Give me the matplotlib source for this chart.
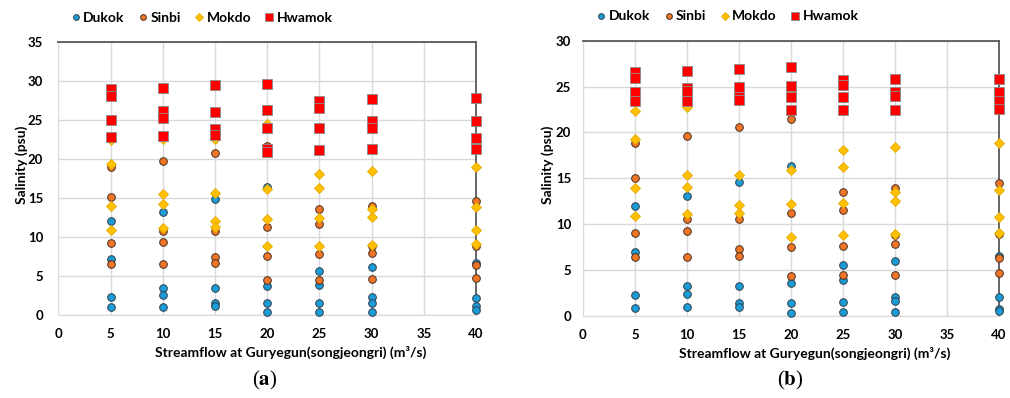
import matplotlib
matplotlib.use('Agg')
import matplotlib.pyplot as plt

plt.rcParams['font.family'] = ['Lato', 'DejaVu Sans']
plt.rcParams['mathtext.fontset'] = 'stix'

flows = [5, 10, 15, 20, 25, 30, 40]

# (a) salinity values at each streamflow
a_dukok = [[12.1, 7.2, 2.3, 1.0], [13.2, 3.4, 2.5, 1.0], [14.8, 3.4, 1.5, 1.1],
           [16.4, 3.7, 1.5, 0.4], [5.7, 3.9, 1.5, 0.4], [6.1, 2.3, 1.6, 0.4],
           [6.6, 2.2, 1.1, 0.6]]
a_sinbi = [[19.0, 15.1, 9.2, 6.5], [19.7, 10.7, 9.4, 6.5], [20.7, 10.8, 7.4, 6.6],
           [21.7, 11.3, 7.6, 4.5], [13.6, 11.6, 7.8, 4.5], [13.9, 8.9, 7.9, 4.6],
           [14.6, 8.9, 6.4, 4.7]]
a_mokdo = [[22.4, 19.4, 14.0, 10.9], [22.6, 15.5, 14.2, 11.2], [22.5, 15.6, 12.1, 11.3],
           [24.5, 16.1, 12.3, 8.8], [18.1, 16.3, 12.4, 8.8], [18.5, 13.6, 12.6, 9.0],
           [19.0, 13.8, 10.9, 9.1]]
a_hwamok = [[29.0, 28.0, 25.0, 22.8], [29.1, 26.1, 25.2, 22.9], [29.4, 26.0, 23.8, 23.0],
            [29.6, 26.3, 23.9, 21.3, 20.9], [27.4, 26.5, 23.9, 21.1], [27.6, 24.9, 24.0, 21.2],
            [27.8, 24.9, 22.7, 21.3]]

# (b)
b_dukok = [[12.0, 7.0, 2.3, 0.9], [13.1, 3.3, 2.4, 1.0], [14.6, 3.3, 1.4, 1.0],
           [16.3, 3.6, 1.4, 0.3], [5.6, 3.9, 1.5, 0.4], [6.0, 2.1, 1.6, 0.4],
           [6.5, 2.1, 0.8, 0.5]]
b_sinbi = [[18.9, 15.0, 9.1, 6.4], [19.6, 10.6, 9.3, 6.4], [20.6, 10.6, 7.3, 6.5],
           [21.5, 11.2, 7.5, 4.4], [13.5, 11.5, 7.6, 4.5], [14.0, 8.8, 7.8, 4.5],
           [14.5, 8.9, 6.3, 4.7]]
b_mokdo = [[22.3, 19.3, 13.9, 10.9], [22.8, 15.4, 14.1, 11.1], [23.5, 15.4, 12.1, 11.2],
           [24.4, 15.9, 12.2, 8.6], [18.1, 16.2, 12.3, 8.8], [18.4, 13.5, 12.5, 8.9],
           [18.8, 13.7, 10.8, 9.0]]
b_hwamok = [[26.6, 25.9, 24.4, 23.4], [26.7, 24.9, 24.5, 23.4], [26.9, 25.0, 23.9, 23.5],
            [27.1, 25.1, 23.9, 22.4], [25.7, 25.2, 23.9, 22.4], [25.8, 24.4, 24.0, 22.4],
            [25.8, 24.4, 23.4, 22.6]]

names = ['Dukok', 'Sinbi', 'Mokdo', 'Hwamok']
styles = [dict(marker='o', ms=5.5, mfc='#1B9BD7', mec='#2F3E4A', mew=0.7),
          dict(marker='o', ms=5.5, mfc='#F07526', mec='#4A2E1E', mew=0.7),
          dict(marker='D', ms=5.2, mfc='#FFC000', mec='#E3A800', mew=0.6),
          dict(marker='s', ms=7, mfc='#FF0000', mec='#8C8C8C', mew=0.6)]


def expand(groups):
    xs, ys = [], []
    for f, vals in zip(flows, groups):
        xs += [f] * len(vals)
        ys += vals
    return xs, ys


fig = plt.figure(figsize=(10.1, 3.98), dpi=100)
ax1 = fig.add_axes([0.0579, 0.2085, 0.4134, 0.6867])
ax2 = fig.add_axes([0.5772, 0.2060, 0.4119, 0.6917])

# axes, data, ymax, panel letter, letter x, y tick pad, legend x
panels = [(ax1, [a_dukok, a_sinbi, a_mokdo, a_hwamok], 35, 'a', 0.262, 11, -0.002),
          (ax2, [b_dukok, b_sinbi, b_mokdo, b_hwamok], 30, 'b', 0.782, 8.5, 0.001)]

for ax, series, ymax, lab, lx, ypad, legx in panels:
    for name, groups, st in zip(names, series, styles):
        xs, ys = expand(groups)
        ax.plot(xs, ys, ls='none', label=name, clip_on=False, zorder=3, **st)
    ax.set_xlim(0, 40)
    ax.set_ylim(0, ymax)
    ax.set_xticks(range(0, 41, 5))
    ax.set_yticks(range(0, ymax + 1, 5))
    ax.grid(True, color='#D9D9D9', lw=1)
    ax.set_axisbelow(True)
    ax.tick_params(axis='x', length=0, labelsize=9.5, pad=9)
    ax.tick_params(axis='y', length=0, labelsize=9.5, pad=ypad)
    for t in ax.get_xticklabels() + ax.get_yticklabels():
        t.set_fontweight('bold')
    ax.spines['left'].set_visible(False)
    ax.spines['bottom'].set_color('#D9D9D9')
    ax.spines['top'].set_color('#595959')
    ax.spines['right'].set_color('#595959')
    ax.spines['top'].set_linewidth(1.3)
    ax.spines['right'].set_linewidth(1.3)
    ax.set_xlabel('Streamflow at Guryegun(songjeongri) (m³/s)', fontsize=10,
                  fontweight='bold')
    ax.xaxis.set_label_coords(0.556, -0.112)
    ax.set_ylabel('Salinity (psu)', fontsize=10, fontweight='bold')
    ax.yaxis.set_label_coords(-0.072 if lab == 'a' else -0.07, 0.55)
    ax.legend(loc='center left', bbox_to_anchor=(legx, 1.088), ncol=4, frameon=False,
              handletextpad=0.15, columnspacing=0.9, markerscale=0.75, handlelength=0.8,
              prop=dict(weight='bold', size=10))
    fig.text(lx, 0.045, r'(' + r'$\mathbf{' + lab + r'}$' + ')', fontsize=15,
             family='Liberation Serif', ha='center', va='center')

fig.savefig('out.png', dpi=100)
